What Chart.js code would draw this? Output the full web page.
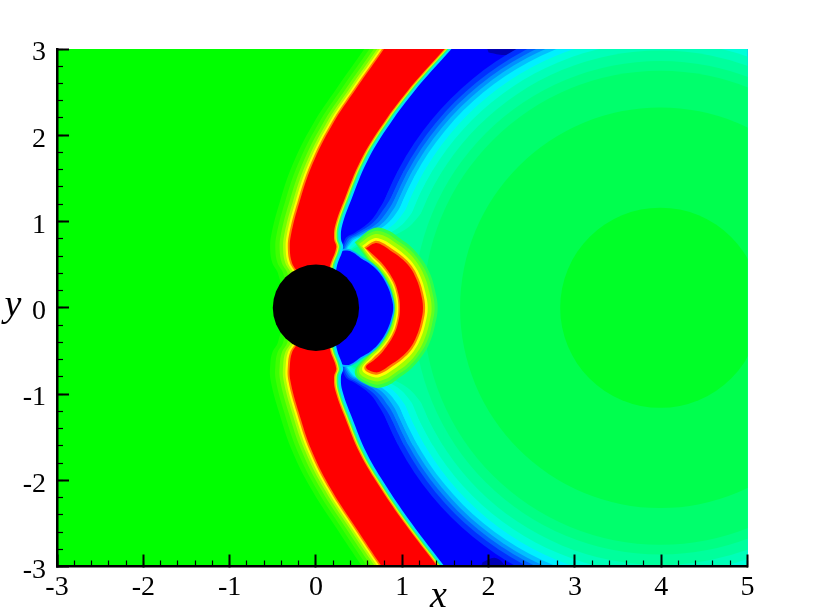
<!DOCTYPE html>
<html><head><meta charset="utf-8">
<style>html,body{margin:0;padding:0;background:#fff}canvas{display:block}</style>
<script src="https://cdn.jsdelivr.net/npm/chart.js@4"></script>
</head><body><canvas id="c" width="813" height="611"></canvas>
<script>
const xTickValues=[-3,-2,-1,0,1,2,3,4,5];
const yTickValues=[-3,-2,-1,0,1,2,3];
const farLeft=-3.3, wakeX=3.99, wakeY=0;

// wake rings: radius in data units, from blue band inward
const ringRadius=[3.43,3.37,3.325,3.28,3.23,3.16,3.08,2.98,2.86,2.746,2.32,1.16];
const ringColor=['#0030FF','#0060FF','#0090FF','#00C0FF','#00F0FF','#00FFD8','#00FFB8','#00FF9C','#00FF84','#00FF6C','#00FF4E','#00FF28'];
// tongues of each ring between the two blue tails
const fan1=[[.957,1.6],[.817,1.3],[.74,1.16],[.626,1.0],[.45,.87],[.34,.80],[.3,.6],[.3,-.6],[.34,-.80],[.45,-.87],[.626,-1.0],[.74,-1.16],[.817,-1.3],[.957,-1.6]];
const fan2=[[1.024,1.6],[.88,1.3],[.79,1.15],[.66,.985],[.47,.86],[.36,.79],[.31,.6],[.31,-.6],[.36,-.79],[.47,-.86],[.66,-.985],[.79,-1.15],[.88,-1.3],[1.024,-1.6]];
const fan3=[[1.075,1.6],[.93,1.3],[.84,1.14],[.70,.97],[.49,.85],[.38,.78],[.32,.6],[.32,-.6],[.38,-.78],[.49,-.85],[.70,-.97],[.84,-1.14],[.93,-1.3],[1.075,-1.6]];
const fan4=[[1.126,1.6],[.978,1.3],[.89,1.13],[.74,.955],[.51,.84],[.40,.775],[.33,.6],[.33,-.6],[.40,-.775],[.51,-.84],[.74,-.955],[.89,-1.13],[.978,-1.3],[1.126,-1.6]];
const fan5=[[1.185,1.6],[1.034,1.3],[.945,1.12],[.78,.94],[.53,.83],[.42,.77],[.34,.6],[.34,-.6],[.42,-.77],[.53,-.83],[.78,-.94],[.945,-1.12],[1.034,-1.3],[1.185,-1.6]];
const fan6=[[1.264,1.6],[1.109,1.3],[1.02,1.11],[.84,.92],[.56,.81],[.45,.76],[.35,.6],[.35,-.6],[.45,-.76],[.56,-.81],[.84,-.92],[1.02,-1.11],[1.109,-1.3],[1.264,-1.6]];
const fan7=[[1.358,1.6],[1.197,1.3],[1.11,1.1],[.91,.90],[.60,.79],[.48,.74],[.36,.6],[.36,-.6],[.48,-.74],[.60,-.79],[.91,-.90],[1.11,-1.1],[1.197,-1.3],[1.358,-1.6]];
const fan8=[[1.476,1.6],[1.309,1.3],[1.22,1.1],[.99,.88],[.65,.77],[.50,.72],[.37,.6],[.37,-.6],[.50,-.72],[.65,-.77],[.99,-.88],[1.22,-1.1],[1.309,-1.3],[1.476,-1.6]];
const navyTop=[[1.95,3.1],[2.5,3.1],[2.42,2.98],[2.2,2.93],[2.0,2.96]];
const navyBottom=[[1.88,-3.1],[2.25,-3.1],[2.2,-3.0],[2.08,-2.9],[1.93,-2.95]];

// inner face of the shock (red to blue)
const edgeY=[3.2,3.0,2.5,2.08,1.69,1.27,.96,.80,.70,.47,0,-.47,-.70,-.80,-.96,-1.27,-1.69,-2.08,-2.5,-3.0,-3.2];
const edgeCyanX=[1.75,1.57,1.13,.822,.59,.416,.305,.29,.315,.24,.18,.24,.315,.29,.305,.416,.59,.822,1.11,1.49,1.64];
const edgeGreenX=[1.72,1.54,1.10,.792,.56,.386,.275,.26,.285,.21,.15,.21,.285,.26,.275,.386,.56,.792,1.08,1.46,1.61];
const edgeYellowX=[1.70,1.52,1.08,.772,.54,.366,.255,.24,.265,.19,.13,.19,.265,.24,.255,.366,.54,.772,1.06,1.44,1.59];
const edgeOrangeX=[1.685,1.505,1.065,.757,.525,.351,.24,.225,.25,.175,.115,.175,.25,.225,.24,.351,.525,.757,1.045,1.425,1.575];
const edgeRedX=[1.67,1.49,1.05,.742,.51,.336,.225,.21,.235,.16,.10,.16,.235,.21,.225,.336,.51,.742,1.03,1.41,1.56];

// outer face of the shock (red to free-stream green)
const frontY=[3.2,3.0,2.55,2.12,1.66,1.22,.84,.67,.52,.40,0,-.40,-.52,-.67,-.84,-1.22,-1.66,-2.12,-2.55,-3.0,-3.2];
const frontOrangeX=[.923,.788,.473,.188,-.042,-.192,-.29,-.302,-.277,-.212,-.132,-.212,-.277,-.302,-.297,-.197,-.047,.185,.463,.763,.903];
const frontYellowX=[.90,.765,.45,.165,-.065,-.215,-.313,-.325,-.30,-.235,-.155,-.235,-.30,-.325,-.32,-.22,-.07,.162,.44,.74,.88];
const frontLimeX=[.875,.74,.425,.14,-.09,-.24,-.338,-.35,-.325,-.26,-.18,-.26,-.325,-.35,-.345,-.245,-.095,.137,.415,.715,.855];
const frontSoftX=[.845,.71,.395,.11,-.12,-.27,-.368,-.38,-.355,-.29,-.21,-.29,-.355,-.38,-.375,-.275,-.125,.107,.385,.685,.825];
const frontPaleX=[.805,.67,.355,.07,-.16,-.31,-.408,-.42,-.395,-.33,-.25,-.33,-.395,-.42,-.415,-.315,-.165,.067,.345,.645,.785];
const frontFaintX=[.755,.62,.305,.02,-.21,-.36,-.458,-.47,-.445,-.38,-.30,-.38,-.445,-.47,-.465,-.365,-.215,.017,.295,.595,.735];
const frontGreenX=[.695,.56,.245,-.04,-.27,-.42,-.518,-.53,-.505,-.44,-.36,-.44,-.505,-.53,-.525,-.425,-.275,-.043,.235,.535,.675];

// crescent behind the cylinder
const arcPale=[[.45,.76],[.66,.92],[.83,.90],[.98,.80],[1.11,.70],[1.23,.56],[1.32,.40],[1.38,.20],[1.41,0],[1.38,-.20],[1.32,-.40],[1.23,-.56],[1.11,-.70],[.98,-.80],[.83,-.90],[.66,-.92],[.45,-.76],[.615,-.53],[.72,-.445],[.828,-.28],[.878,-.145],[.895,0],[.878,.145],[.828,.28],[.72,.445],[.615,.53]];
const arcSoft=[[.475,.75],[.665,.885],[.815,.865],[.95,.775],[1.08,.68],[1.20,.54],[1.29,.385],[1.346,.19],[1.375,0],[1.346,-.19],[1.29,-.385],[1.20,-.54],[1.08,-.68],[.95,-.775],[.815,-.865],[.665,-.885],[.475,-.75],[.625,-.54],[.73,-.45],[.838,-.285],[.888,-.148],[.905,0],[.888,.148],[.838,.285],[.73,.45],[.625,.54]];
const arcLime=[[.50,.74],[.67,.85],[.80,.83],[.925,.75],[1.055,.655],[1.17,.525],[1.255,.37],[1.312,.185],[1.34,0],[1.312,-.185],[1.255,-.37],[1.17,-.525],[1.055,-.655],[.925,-.75],[.80,-.83],[.67,-.85],[.50,-.74],[.63,-.55],[.735,-.46],[.848,-.29],[.898,-.15],[.915,0],[.898,.15],[.848,.29],[.735,.46],[.63,.55]];
const arcYellow=[[.535,.715],[.675,.805],[.78,.785],[.895,.715],[1.02,.62],[1.135,.50],[1.215,.352],[1.268,.18],[1.295,0],[1.268,-.18],[1.215,-.352],[1.135,-.50],[1.02,-.62],[.895,-.715],[.78,-.785],[.675,-.805],[.535,-.715],[.65,-.565],[.75,-.47],[.866,-.30],[.918,-.15],[.935,0],[.918,.15],[.866,.30],[.75,.47],[.65,.565]];
const arcOrange=[[.56,.70],[.68,.775],[.77,.755],[.875,.688],[1.0,.598],[1.11,.485],[1.188,.34],[1.24,.175],[1.265,0],[1.24,-.175],[1.188,-.34],[1.11,-.485],[1.0,-.598],[.875,-.688],[.77,-.755],[.68,-.775],[.56,-.70],[.66,-.585],[.763,-.485],[.883,-.31],[.937,-.155],[.955,0],[.937,.155],[.883,.31],[.763,.485],[.66,.585]];
const arcRed=[[.58,.69],[.684,.748],[.76,.73],[.857,.667],[.98,.58],[1.089,.47],[1.165,.33],[1.215,.17],[1.24,0],[1.215,-.17],[1.165,-.33],[1.089,-.47],[.98,-.58],[.857,-.667],[.76,-.73],[.684,-.748],[.58,-.69],[.68,-.60],[.78,-.50],[.90,-.319],[.955,-.16],[.973,0],[.955,.16],[.90,.319],[.78,.50],[.68,.60]];

// low-value pocket between cylinder and crescent
const pocketCyan=[[0,.3],[.18,.50],[.27,.66],[.36,.685],[.44,.655],[.535,.59],[.655,.515],[.755,.41],[.845,.26],[.892,.125],[.912,0],[.892,-.125],[.845,-.26],[.755,-.41],[.655,-.515],[.535,-.59],[.44,-.655],[.36,-.685],[.27,-.66],[.18,-.50],[0,-.3]];
const pocketBlue=[[0,.3],[.19,.49],[.28,.64],[.36,.665],[.43,.64],[.52,.575],[.64,.50],[.74,.40],[.83,.25],[.875,.12],[.895,0],[.875,-.12],[.83,-.25],[.74,-.40],[.64,-.50],[.52,-.575],[.43,-.64],[.36,-.665],[.28,-.64],[.19,-.49],[0,-.3]];
const bodyRadius=0.5;
const fieldCorners=[[-3.3,3.3],[5.3,3.3],[5.3,-3.3],[-3.3,-3.3]];

const pts=a=>a.map(p=>({x:p[0],y:p[1]}));
const poly=(a,color,tension)=>({type:'scatter',showLine:true,data:pts(a),fill:'shape',backgroundColor:color,borderColor:color,borderWidth:0,pointRadius:0,tension:tension===undefined?0.4:tension,clip:0});
const disc=(x,y,R,color)=>({type:'scatter',showLine:false,data:[{x,y}],clip:0,
  pointRadius:c=>(c.chart.scales.x.getPixelForValue(R)-c.chart.scales.x.getPixelForValue(0)),
  pointBackgroundColor:color,pointBorderWidth:0,pointBorderColor:color,backgroundColor:color,borderColor:color});
const leftOf=(xs,ys)=>[...xs.map((x,i)=>[x,ys[i]]),[farLeft,-3.3],[farLeft,3.3]];

const fans=[fan1,fan2,fan3,fan4,fan5,fan6,fan7,fan8];
const layers=[poly(fieldCorners,'#0000FF',0),poly(navyTop,'#0000B4'),poly(navyBottom,'#0000B4')];
ringRadius.forEach((R,i)=>{
  layers.push(disc(wakeX,wakeY,R,ringColor[i]));
  if(fans[i]) layers.push(poly(fans[i],ringColor[i]));
});
[[arcPale,'#30FF48'],[arcSoft,'#60FF20'],[arcLime,'#A0FF00'],[arcYellow,'#FFFF00'],[arcOrange,'#FF8000'],[arcRed,'#FF0000']].forEach(l=>layers.push(poly(l[0],l[1])));
layers.push(poly(pocketCyan,'#00B0FF'),poly(pocketBlue,'#0000FF'));
[[edgeCyanX,'#00E0FF'],[edgeGreenX,'#30FF60'],[edgeYellowX,'#E0FF00'],[edgeOrangeX,'#FF9000'],[edgeRedX,'#FF0000']].forEach(l=>layers.push(poly(leftOf(l[0],edgeY),l[1])));
[[frontOrangeX,'#FF8000'],[frontYellowX,'#FFFF00'],[frontLimeX,'#B0FF00'],[frontSoftX,'#70FF00'],[frontPaleX,'#40FF00'],[frontFaintX,'#20FF00'],[frontGreenX,'#00FF00']].forEach(l=>layers.push(poly(leftOf(l[0],frontY),l[1])));
layers.push(disc(0,0,bodyRadius,'#000000'));

const tickFont={family:'"Liberation Serif"',size:28};
const ink='#000000';
new Chart(document.getElementById('c'),{
  type:'scatter',
  data:{datasets:layers.reverse()},
  plugins:[{id:'axisLetters',afterDraw(ch){
    const g=ch.ctx;g.save();g.fillStyle=ink;g.font='italic 38px "Liberation Serif"';g.textAlign='center';g.textBaseline='alphabetic';
    g.fillText('x',ch.scales.x.getPixelForValue(1.42),607);
    g.fillText('y',13,ch.scales.y.getPixelForValue(0)+8);
    g.restore();
  }}],
  options:{
    responsive:false,animation:false,events:[],
    layout:{padding:{top:49,right:65.5,left:0,bottom:0}},
    plugins:{legend:{display:false},tooltip:{enabled:false},title:{display:false}},
    scales:{
      x:{type:'linear',position:'bottom',weight:1,min:-3,max:5,
        afterBuildTicks:s=>{s.ticks=xTickValues.map(value=>({value}))},
        afterFit:s=>{s.height=44.5},
        grid:{drawOnChartArea:false,tickLength:-12,tickColor:ink,tickWidth:2,z:5},
        border:{display:true,color:ink,width:2.5,z:5},
        ticks:{autoSkip:false,maxRotation:0,padding:16,color:ink,font:tickFont,callback:v=>String(v)}},
      y:{type:'linear',position:'left',weight:1,min:-3,max:3,
        afterBuildTicks:s=>{s.ticks=yTickValues.map(value=>({value}))},
        afterFit:s=>{s.width=57},
        grid:{drawOnChartArea:false,tickLength:-12,tickColor:ink,tickWidth:2,z:5},
        border:{display:true,color:ink,width:2.5,z:5},
        ticks:{autoSkip:false,padding:23,labelOffset:4,color:ink,font:tickFont,callback:v=>String(v)}},
      xMinor:{type:'linear',axis:'x',position:'bottom',weight:0,min:-3,max:5,
        afterFit:s=>{s.height=0},
        grid:{drawOnChartArea:false,tickLength:-6,tickColor:ink,tickWidth:1.2,z:4},
        border:{display:false},
        ticks:{display:false,stepSize:0.2,autoSkip:false}},
      yMinor:{type:'linear',axis:'y',position:'left',weight:0,min:-3,max:3,
        afterFit:s=>{s.width=0},
        grid:{drawOnChartArea:false,tickLength:-6,tickColor:ink,tickWidth:1.2,z:4},
        border:{display:false},
        ticks:{display:false,stepSize:0.2,autoSkip:false}}
    }
  }
});
</script></body></html>
